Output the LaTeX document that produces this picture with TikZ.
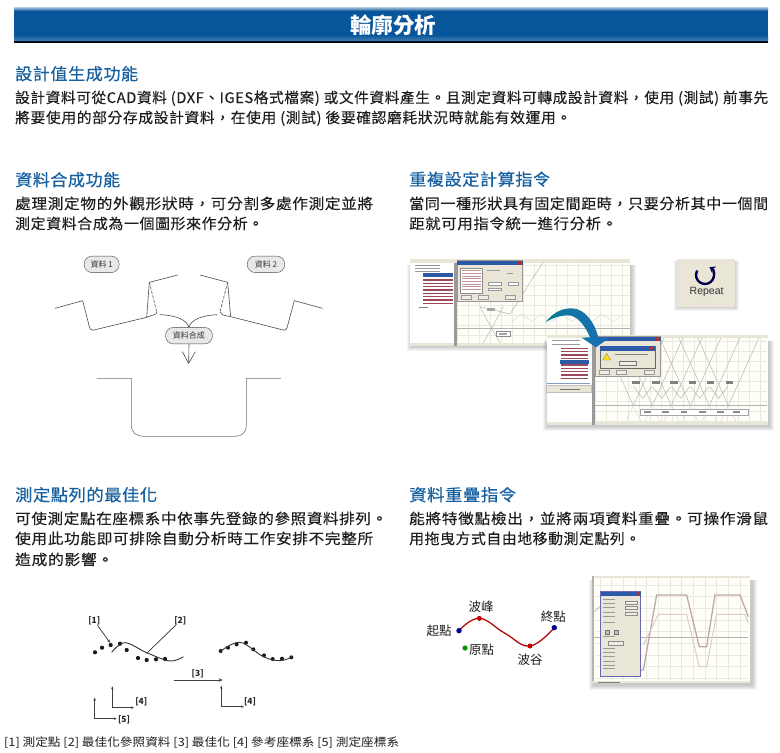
\documentclass[tikz,border=0pt]{standalone}
\usepackage{fontspec}
\usepackage{graphicx}
\usetikzlibrary{arrows.meta,calc}
\setmainfont{Noto Sans CJK TC}
\setsansfont{Liberation Sans}
\newsavebox\fitbox
\newcommand\fitto[2]{\sbox\fitbox{#2}\pgfmathsetmacro\fitr{#1/\the\wd\fitbox}\scalebox{\fitr}[1]{\usebox\fitbox}}
\newcommand\bodyfont{\fontsize{14.6}{16}\selectfont\addfontfeature{LetterSpace=4,FakeBold=0.12}}
\newcommand\headfont{\fontsize{16.5}{18}\selectfont\addfontfeature{LetterSpace=3,FakeBold=0.35}}
\definecolor{headblue}{HTML}{17609F}
\definecolor{barblue}{HTML}{07569B}
\definecolor{bodyink}{HTML}{1E1E1E}
\definecolor{lineink}{HTML}{4A4A4A}
\definecolor{arrowteal}{HTML}{0A7C98}
\definecolor{arrowblue}{HTML}{1A6DB5}
\definecolor{winbeige}{HTML}{E9E6D8}
\definecolor{gridgreen}{HTML}{E6EAE0}
\definecolor{listred}{HTML}{8A2A3A}
\definecolor{titleblue}{HTML}{2C58A8}
\tikzset{
  bodyline/.style={anchor=base west,inner sep=0pt,text=bodyink,font=\bodyfont},
  headline/.style={anchor=base west,inner sep=0pt,text=headblue,font=\headfont},
  pill/.style={draw=lineink,fill=black!9,rounded corners=8pt,inner sep=0pt,minimum height=16.5pt,text=black!80,font=\fontsize{8}{9}\selectfont},
  profile/.style={draw=lineink,line width=.6pt,line join=round},
  dashprofile/.style={profile,dash pattern=on 3pt off 1.5pt},
  tag/.style={inner sep=0pt,font=\rmfamily\bfseries\fontsize{8.5}{9}\selectfont,text=black!85},
  leader/.style={draw=black!80,line width=.7pt,-{Stealth[length=3pt,width=2.5pt]}},
  axisline/.style={draw=black!75,line width=.7pt,{Stealth[length=3pt,width=2.5pt]}-{Stealth[length=3pt,width=2.5pt]}},
  wave/.style={inner sep=0pt,font=\fontsize{12.5}{14}\selectfont,text=bodyink},
  gridl/.style={draw=gridgreen,line width=.35pt},
  tri/.style={draw=black!30,line width=.45pt},
  trilight/.style={draw=black!15,line width=.45pt},
  shadowlayer/.style={fill=black,opacity=.045,draw=none}
}
\begin{document}
\begin{tikzpicture}[x=1pt,y=-1pt]
\useasboundingbox (0,0) rectangle (780,753);
\fill[white] (0,0) rectangle (780,753);
% title bar
\fill[barblue] (14,8) rectangle (768,41);
\shade[top color=barblue!30!white,bottom color=barblue] (14,7) rectangle (768,11);
\shade[top color=barblue,bottom color=barblue!75!white] (14,35) rectangle (768,41);
\fill[black!85!barblue] (14,41) rectangle (768,43);
\node[inner sep=0pt,text=white,font=\fontsize{21.5}{23}\selectfont\bfseries] (title) at (393,25) {輪廓分析};
% section text
\node[headline] (h1) at (15,80) {\fitto{123}{設計值生成功能}};
\node[bodyline] (b1a) at (15,103) {\fitto{753}{設計資料可從CAD資料 (DXF、IGES格式檔案) 或文件資料產生。且測定資料可轉成設計資料，使用 (測試) 前事先}};
\node[bodyline] (b1b) at (15,123) {\fitto{556}{將要使用的部分存成設計資料，在使用 (測試) 後要確認磨耗狀況時就能有效運用。}};
\node[headline] (h2) at (15,186) {\fitto{105}{資料合成功能}};
\node[bodyline] (b2a) at (15,209) {\fitto{358}{處理測定物的外觀形狀時，可分割多處作測定並將}};
\node[bodyline] (b2b) at (15,229) {\fitto{248}{測定資料合成為一個圖形來作分析。}};
\node[headline] (h3) at (409,185.5) {\fitto{141}{重複設定計算指令}};
\node[bodyline] (b3a) at (409,209) {\fitto{359}{當同一種形狀具有固定間距時，只要分析其中一個間}};
\node[bodyline] (b3b) at (409,229) {\fitto{208}{距就可用指令統一進行分析。}};
\node[headline] (h4) at (15,501) {\fitto{142}{測定點列的最佳化}};
\node[bodyline] (b4a) at (15,524) {\fitto{372}{可使測定點在座標系中依事先登錄的參照資料排列。}};
\node[bodyline] (b4b) at (15,544) {\fitto{358}{使用此功能即可排除自動分析時工作安排不完整所}};
\node[bodyline] (b4c) at (15,565) {\fitto{98}{造成的影響。}};
\node[headline] (h5) at (409,501) {\fitto{107}{資料重疊指令}};
\node[bodyline] (b5a) at (409,524) {\fitto{359}{能將特徵點檢出，並將兩項資料重疊。可操作滑鼠}};
\node[bodyline] (b5b) at (409,544) {\fitto{231}{用拖曳方式自由地移動測定點列。}};
\node[inner sep=0pt,anchor=base west,text=bodyink,font=\fontsize{11.5}{13}\selectfont] (cap) at (4,746.5) {\fitto{395}{[1] 測定點 [2] 最佳化參照資料 [3] 最佳化 [4] 參考座標系 [5] 測定座標系}};

% data merge diagram
\begin{scope}[shift={(0,240)},x=.33333pt,y=-.33333pt]
\node[pill,minimum width=35pt] (d1) at (305,73) {資料 1};
\node[pill,minimum width=37.5pt] (d2) at (798,73) {資料 2};
\node[pill,minimum width=47pt] (dm) at (567,287) {資料合成};
\draw[profile] (165,205) -- (248,182) -- (268,260) .. controls (271,272) and (278,272) .. (290,268) -- (440,232) -- (448,127) -- (533,105);
\draw[dashprofile] (448,127) -- (470,215);
\draw[profile] (470,215) -- (468,222) -- (440,232);
\draw[profile] (968,205) -- (883,182) -- (862,260) .. controls (859,272) and (852,272) .. (842,268) -- (692,230) -- (683,127) -- (600,105);
\draw[dashprofile] (683,127) -- (660,215);
\draw[profile] (660,215) -- (668,225) -- (692,230);
\coordinate (mergeL) at (480,224);
\coordinate (mergeR) at (652,224);
\coordinate (mergeTip) at (566,370);
\draw[profile] (mergeL) .. controls (530,226) and (560,240) .. (dm.north);
\draw[profile] (mergeR) .. controls (605,226) and (572,240) .. (dm.north);
\draw[profile] (dm.south) -- (mergeTip);
\draw[profile] (547,335) -- (mergeTip) -- (586,335);
\draw[profile,draw=black!55] (290,415) -- (394,415) -- (394,555) .. controls (394,578) and (410,589) .. (430,589) -- (705,589) .. controls (725,589) and (739,578) .. (739,555) -- (739,415) -- (843,415);
\end{scope}

% screenshots (repeat)
\begin{scope}[shift={(400,250)},x=.33333pt,y=-.33333pt]
\foreach \g in {0,3,...,12}{\fill[shadowlayer] (32-\g,45) rectangle (695+\g,292+\g);}
\fill[white!97!yellow] (30,28) rectangle (690,285);
\foreach \gx in {172,205,...,690}{\draw[gridl] (\gx,40) -- (\gx,278);}
\foreach \gy in {45,75,...,278}{\draw[gridl] (172,\gy) -- (690,\gy);}
\fill[winbeige] (30,28) rectangle (690,39);
\fill[winbeige] (30,278) rectangle (690,287);
\fill[white] (30,39) rectangle (162,278);
\fill[black!40] (162,39) rectangle (172,287);
\draw[tri] (172,235) -- (690,235);
\draw[tri] (430,35) -- (330,192);
\draw[tri] (240,170) -- (275,235) -- (310,170);
\draw[tri] (250,278) -- (275,235) -- (300,278);
\draw[tri] (240,170) -- (330,192);
\draw[trilight] (335,215) -- (365,192) -- (395,215) -- (425,192) -- (455,215) -- (485,192) -- (515,215) -- (545,192) -- (575,215) -- (605,192) -- (640,215) -- (670,192);
\fill[black!35] (262,175) rectangle (284,182);
\draw[black!45,fill=white] (290,243) rectangle (330,258);
\fill[black!35] (298,248) rectangle (322,254);
\foreach \ly in {90,100,...,165}{\draw[listred!85,line width=1.1pt] (70,\ly) -- (158,\ly);}
\fill[titleblue] (68,70) rectangle (160,80);
\foreach \ly in {45,55,65}{\draw[black!40,line width=.8pt] (45,\ly) -- (120,\ly);}
\draw[black!50,line width=.9pt] (58,172) -- (85,172);
\fill[winbeige,draw=black!40] (172,32) rectangle (368,155);
\fill[titleblue] (172,32) rectangle (368,46);
\fill[red!60!black!80] (355,34) rectangle (366,45);
\draw[black!45,fill=white] (182,55) rectangle (247,130);
\foreach \ly in {62,70,...,125}{\draw[listred!50,line width=.7pt] (186,\ly) -- (243,\ly);}
\draw[black!40,line width=.6pt] (260,60) -- (300,60);
\draw[black!40,line width=.6pt] (320,70) -- (340,70);
\draw[black!40,fill=white] (265,98) rectangle (305,106);
\draw[black!40,fill=white] (325,98) rectangle (355,106);
\draw[black!40,fill=white] (265,114) rectangle (305,122);
\foreach \bx in {185,235,315}{\draw[black!40,fill=winbeige!70!white] (\bx,137) rectangle (\bx+30,148);}

% repeat button
\foreach \g in {0,3,...,9}{\fill[shadowlayer] (832-\g,34) rectangle (1008+\g,175+\g);}
\fill[winbeige] (832,28) rectangle (1005,172);
\draw[draw=black!70!blue,line width=2.4pt,-{Stealth[length=5.5pt,width=8pt]}] (891.6,61.5) arc (150:420:9pt);
\node[inner sep=0pt,text=black!80,font=\sffamily\fontsize{10.5}{12}\selectfont] (rep) at (920,127) {Repeat};

% second screenshot
\foreach \g in {0,3,...,12}{\fill[shadowlayer] (442-\g,272) rectangle (1110+\g,532+\g);}
\fill[white!97!yellow] (440,255) rectangle (1105,525);
\foreach \gx in {585,618,...,1100}{\draw[gridl] (\gx,265) -- (\gx,518);}
\foreach \gy in {275,305,...,518}{\draw[gridl] (585,\gy) -- (1100,\gy);}
\begin{scope}
\clip (585,265) rectangle (1100,518);
\foreach \tx in {700,757,...,1040}{
  \draw[tri] (\tx,467) -- (\tx+100,245);
  \draw[tri] (\tx,467) -- (\tx-100,245);
  \draw[trilight] (\tx,467) -- (\tx+28,525);
  \draw[trilight] (\tx,467) -- (\tx-28,525);
}
\foreach \tx in {728,785,...,1000}{
  \draw[tri] (\tx-27,410) -- (\tx,445) -- (\tx+27,410);
}
\end{scope}
\draw[tri] (585,467) -- (1100,467);
\fill[winbeige] (440,255) rectangle (1105,265);
\fill[winbeige] (440,516) rectangle (1105,525);
\fill[white] (440,265) rectangle (575,516);
\fill[black!40] (575,265) rectangle (585,525);
\fill[winbeige,draw=black!25] (440,405) rectangle (575,428);
\fill[titleblue!60] (442,398) rectangle (570,403);
\draw[black!55,line width=.7pt] (480,417) -- (540,417);
\foreach \ly in {295,305,...,390}{\draw[listred!85,line width=1.1pt] (482,\ly) -- (565,\ly);}
\fill[titleblue] (480,331) rectangle (567,343);
\foreach \ly in {272,282}{\draw[black!40,line width=.8pt] (455,\ly) -- (540,\ly);}
\foreach \lx in {708,768,822,878,932,988}{\fill[black!50] (\lx-11,394) rectangle (\lx+11,401);}
\draw[black!35,fill=white] (720,478) rectangle (1045,495);
\foreach \lx in {742,797,852,907,962,1010}{\fill[black!45] (\lx-10,483) rectangle (\lx+10,490);}
\fill[winbeige,draw=black!40] (585,260) rectangle (782,378);
\fill[titleblue] (585,260) rectangle (782,274);
\fill[red!60!black!80] (768,262) rectangle (780,273);
\foreach \bx in {598,650,732}{\draw[black!40,fill=winbeige!70!white] (\bx,362) rectangle (\bx+30,373);}
\fill[winbeige,draw=black!60] (600,288) rectangle (765,355);
\fill[titleblue] (600,288) rectangle (765,302);
\fill[red!60!black!80] (750,290) rectangle (762,301);
\fill[yellow!85!orange,draw=black!45] (620,310) -- (632,330) -- (608,330) -- cycle;
\draw[black!50,line width=.8pt] (645,314) -- (745,314);
\draw[black!55,fill=winbeige!70!white] (658,335) rectangle (708,347);
% curved arrow
\shade[left color=arrowteal,right color=arrowblue] (436,217) .. controls (465,182) and (490,175) .. (515,175) .. controls (555,175) and (585,220) .. (595,262)
  -- (630,262) -- (588,292) -- (545,263) -- (570,262) .. controls (555,225) and (530,196) .. (505,196) .. controls (480,196) and (455,205) .. cycle;
\end{scope}

% fit diagram
\begin{scope}[shift={(0,600)},x=.33333pt,y=-.33333pt]
\node[tag] (t1) at (283,63) {[1]};
\node[tag] (t2) at (541,62) {[2]};
\node[tag] (t3) at (593,220) {[3]};
\node[tag] (t4a) at (424,306) {[4]};
\node[tag] (t5) at (372,358) {[5]};
\node[tag] (t4b) at (750,304) {[4]};
\coordinate (p1) at (330,128);
\coordinate (p2) at (440,160);
\draw[leader] (t1) -- (p1);
\draw[draw=black!80,line width=.7pt] (t2) -- (p2);
\foreach \px/\py in {285/157,306/143,332/135,360/131,380/150,414/174,440/180,468/178,495/177}{\fill[black!90] (\px,\py) circle (2.1pt);}
\draw[black!80,line width=.9pt] plot[smooth,tension=.6] coordinates {(335,157) (375,128) (440,158) (510,183) (550,170)};
\foreach \px/\py in {662/153,684/143,710/133,738/128,760/148,792/166,818/177,846/176,874/172}{\fill[black!90] (\px,\py) circle (2pt);}
\draw[black!80,line width=.9pt] plot[smooth,tension=.6] coordinates {(660,155) (720,127) (790,170) (840,182) (878,170)};
\coordinate (a1) at (522,240);
\coordinate (a2) at (668,240);
\draw[draw=black!75,line width=1pt,-{Stealth[length=4pt,width=3.5pt]}] (a1) -- (a2);
\draw[axisline] (337,259) -- (337,323) -- (402,323);
\draw[axisline] (284,293) -- (284,356) -- (350,356);
\draw[axisline] (664,257) -- (664,320) -- (732,320);
\end{scope}

% wave and screenshot
\begin{scope}[shift={(410,565)},x=.33333pt,y=-.33333pt]
\draw[red!70!black,line width=1.25pt] plot[smooth,tension=.7] coordinates {(147,197) (208,160) (285,205) (360,243) (433,188)};
\fill[blue!55!black] (147,197) circle (2.7pt);
\fill[blue!55!black] (433,188) circle (2.7pt);
\fill[red!80!black] (208,160) circle (2.5pt);
\fill[red!80!black] (360,243) circle (2.5pt);
\fill[green!60!black] (165,249) circle (2.6pt);
\node[wave] (w1) at (213,125) {波峰};
\node[wave] (w2) at (87,197) {起點};
\node[wave] (w3) at (430,155) {終點};
\node[wave] (w4) at (215,254) {原點};
\node[wave] (w5) at (360,283) {波谷};
\foreach \g in {0,3,...,12}{\fill[shadowlayer] (550-\g,45) rectangle (1028+\g,362+\g);}
\fill[white!97!yellow] (545,32) rectangle (1020,355);
\foreach \gx in {570,605,...,1015}{\draw[gridl] (\gx,40) -- (\gx,345);}
\foreach \gy in {60,95,...,345}{\draw[gridl] (555,\gy) -- (1015,\gy);}
\fill[winbeige] (545,32) rectangle (1020,40);
\fill[black!30] (545,32) rectangle (553,355);
\fill[winbeige] (545,347) rectangle (1020,355);
\fill[black!50] (565,350) rectangle (630,353);
\draw[black!30,line width=.6pt] (553,218) -- (1015,218);
\draw[black!25,line width=.8pt] (553,140) -- (570,125);
\draw[red!30!black!35,line width=1.3pt] (692,315) -- (700,315) -- (740,90) -- (830,90) -- (868,245) -- (890,245) -- (915,90) -- (990,90) -- (1015,155);
\draw[red!30!black!20,line width=1pt] (700,240) -- (745,148) -- (830,148) -- (868,305) -- (890,305) -- (920,148) -- (1005,148) -- (1015,175);
\fill[winbeige,draw=blue!50!black!60] (572,80) rectangle (692,333);
\fill[titleblue] (572,80) rectangle (692,94);
\fill[red!60!black!80] (680,82) rectangle (690,92);
\foreach \ly in {103,115,127,143,155,172,214,250,262,274,290,300,310}{\draw[black!40,line width=.6pt] (580,\ly) -- (615,\ly);}
\foreach \by in {110,125,142}{\draw[black!45,fill=winbeige!70!white] (645,\by) rectangle (682,\by+9);}
\draw[black!55,fill=black!25] (586,196) rectangle (598,207);
\draw[black!55,fill=black!25] (612,196) rectangle (624,207);
\draw[black!45,fill=winbeige!70!white] (595,228) rectangle (640,240);
\end{scope}
\end{tikzpicture}
\end{document}
